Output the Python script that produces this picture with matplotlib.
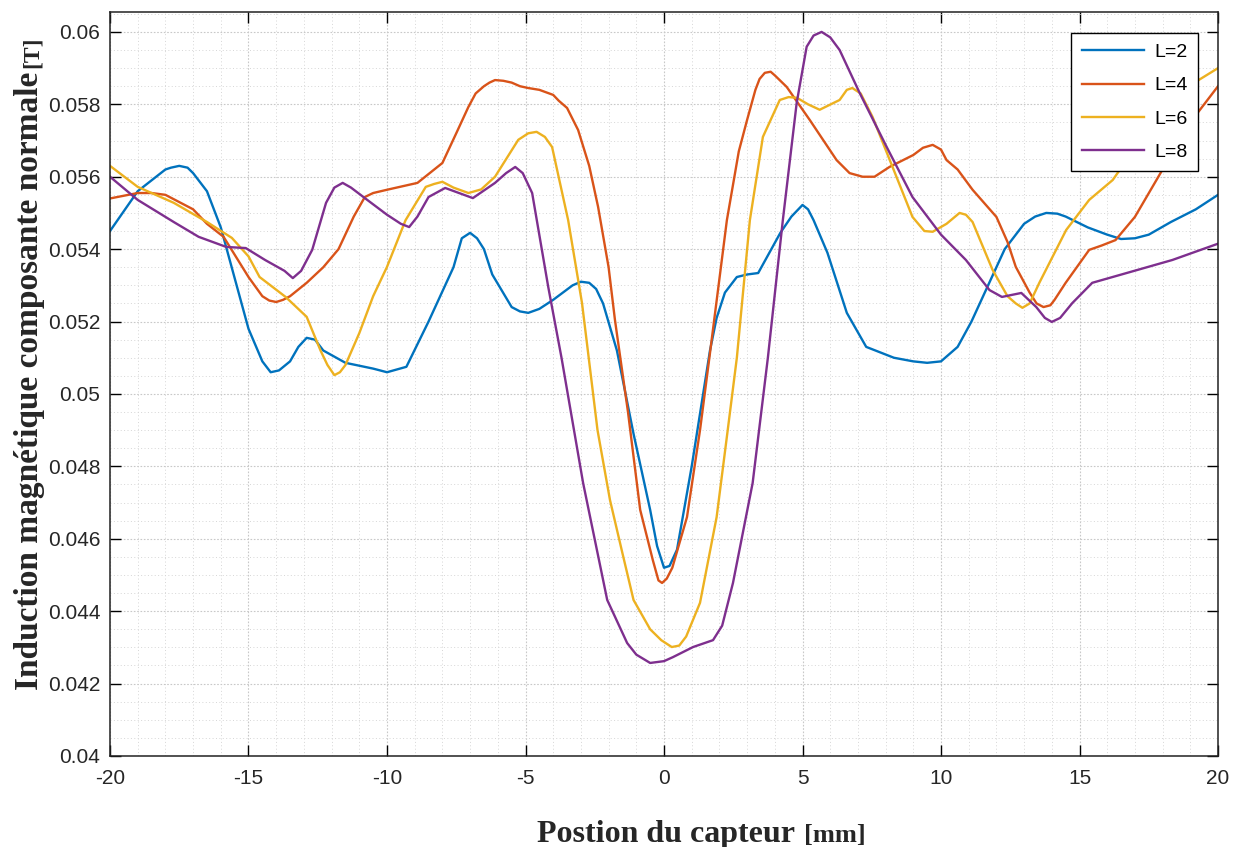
import matplotlib
matplotlib.use("Agg")
import matplotlib.pyplot as plt
from matplotlib.ticker import MultipleLocator

# valeurs (position en mm, induction en T)
x_L2 = [-20, -19, -18, -17.8, -17.5, -17.2, -17, -16.5, -16, -15.5, -15, -14.5, -14.2, -13.9,
        -13.5, -13.2, -12.9, -12.6, -12.3, -11.5, -10.5, -10, -9.3, -8.5, -7.6, -7.3, -7.0,
        -6.75, -6.5, -6.2, -5.5, -5.2, -4.9, -4.5, -4.0, -3.3, -3.0, -2.7, -2.45, -2.2, -1.7,
        -1.1, -0.5, -0.25, 0, 0.2, 0.47, 1.0, 1.66, 1.9, 2.2, 2.63, 3.0, 3.4, 4.2, 4.6, 5.0,
        5.2, 5.4, 5.9, 6.6, 7.3, 8.3, 9.0, 9.5, 10.0, 10.6, 11.1, 11.7, 12.3, 13.0, 13.4, 13.8,
        14.2, 14.5, 15.3, 16.0, 16.5, 17.0, 17.5, 18.3, 19.2, 20]
y_L2 = [0.0545, 0.0556, 0.0562, 0.05625, 0.0563, 0.05625, 0.0561, 0.0556, 0.0546, 0.0532,
        0.0518, 0.0509, 0.0506, 0.05065, 0.0509, 0.0513, 0.05155, 0.0515, 0.0512, 0.05086,
        0.0507, 0.0506, 0.05075, 0.0520, 0.0535, 0.0543, 0.05445, 0.0543, 0.0540, 0.0533,
        0.0524, 0.05228, 0.05224, 0.05235, 0.0526, 0.0530, 0.0531, 0.05307, 0.0529, 0.0525,
        0.0512, 0.0489, 0.0468, 0.0458, 0.0452, 0.04525, 0.0457, 0.0480, 0.0512, 0.0521,
        0.0528, 0.05323, 0.0533, 0.05334, 0.05445, 0.0549, 0.05522, 0.0551, 0.0548, 0.0539,
        0.05224, 0.0513, 0.0510, 0.0509, 0.05086, 0.0509, 0.0513, 0.0520, 0.0530, 0.0540,
        0.0547, 0.0549, 0.0550, 0.05498, 0.0549, 0.0546, 0.0544, 0.05428, 0.0543, 0.0544,
        0.05475, 0.0551, 0.0555]

x_L4 = [-20, -19, -18.5, -18, -17, -16.5, -15.9, -15, -14.5, -14.25, -14.0, -13.75, -13.5,
        -12.9, -12.3, -11.75, -11.2, -10.8, -10.5, -10, -8.9, -8.0, -7.5, -7.06, -6.8, -6.5,
        -6.3, -6.1, -5.8, -5.5, -5.2, -4.9, -4.5, -4.0, -3.8, -3.5, -3.1, -2.7, -2.38, -2.0,
        -1.77, -1.3, -0.86, -0.4, -0.2, -0.07, 0.1, 0.3, 0.83, 1.3, 1.66, 2.27, 2.7, 3.0, 3.3,
        3.45, 3.64, 3.85, 4.0, 4.43, 5.26, 6.23, 6.7, 7.17, 7.6, 8.14, 9.0, 9.35, 9.7, 10.0,
        10.2, 10.6, 11.14, 12.0, 12.4, 12.7, 13.2, 13.45, 13.7, 13.95, 14.1, 14.5, 15.35,
        15.8, 16.3, 17.0, 18.0, 19.0, 20.0]
y_L4 = [0.0554, 0.05555, 0.05555, 0.0555, 0.0551, 0.0547, 0.05434, 0.05323, 0.0527, 0.05258,
        0.05254, 0.0526, 0.0527, 0.05307, 0.0535, 0.0540, 0.0549, 0.05544, 0.05555, 0.05564,
        0.05583, 0.05638, 0.0572, 0.05793, 0.0583, 0.0585, 0.0586, 0.05867, 0.05865, 0.0586,
        0.0585, 0.05845, 0.0584, 0.05826, 0.0581, 0.0579, 0.05729, 0.0563, 0.05517, 0.0535,
        0.05204, 0.0495, 0.0468, 0.0454, 0.04485, 0.04478, 0.0449, 0.0452, 0.0466, 0.0490,
        0.05113, 0.0548, 0.0567, 0.05757, 0.0584, 0.0587, 0.05887, 0.0589, 0.0588, 0.05848,
        0.05757, 0.05646, 0.0561, 0.0560, 0.0560, 0.05627, 0.0566, 0.0568, 0.05688, 0.05675,
        0.05646, 0.0562, 0.05564, 0.05489, 0.0542, 0.05351, 0.0528, 0.0525, 0.0524, 0.05245,
        0.0526, 0.05307, 0.05398, 0.0541, 0.05425, 0.05489, 0.0562, 0.0575, 0.0585]

x_L6 = [-20, -19, -17.7, -16.5, -15.6, -15.0, -14.6, -13.66, -12.9, -12.4, -12.15, -11.9,
        -11.7, -11.5, -11.0, -10.5, -10.0, -9.33, -8.6, -8.3, -8.0, -7.6, -7.06, -6.6, -6.1,
        -5.26, -4.9, -4.6, -4.3, -4.04, -3.46, -2.96, -2.75, -2.4, -1.95, -1.5, -1.1, -0.5,
        -0.1, 0.28, 0.55, 0.8, 1.3, 1.9, 2.3, 2.63, 3.1, 3.57, 4.18, 4.5, 4.8, 5.2, 5.62, 6.34,
        6.6, 6.8, 7.1, 7.53, 8.25, 8.97, 9.4, 9.7, 10.2, 10.67, 10.9, 11.14, 11.86, 12.4, 12.7,
        12.94, 13.2, 13.55, 14.52, 15.35, 16.2, 16.7, 17.5, 18.5, 19.3, 20.0]
y_L6 = [0.0563, 0.05572, 0.05528, 0.05475, 0.05431, 0.0538, 0.05323, 0.05268, 0.05213, 0.0512,
        0.0508, 0.05052, 0.0506, 0.0508, 0.05168, 0.0527, 0.05351, 0.0548, 0.05572, 0.0558,
        0.05586, 0.0557, 0.05555, 0.05565, 0.0560, 0.05702, 0.0572, 0.05724, 0.0571, 0.05682,
        0.0548, 0.05251, 0.0512, 0.0490, 0.04707, 0.0456, 0.04431, 0.0435, 0.0432, 0.04301,
        0.04305, 0.0433, 0.04423, 0.0466, 0.0490, 0.0510, 0.0548, 0.0571, 0.05812, 0.0582,
        0.05818, 0.0580, 0.05785, 0.05812, 0.0584, 0.05845, 0.0583, 0.05765, 0.05627, 0.05489,
        0.0545, 0.05448, 0.0547, 0.0550, 0.05495, 0.05475, 0.05343, 0.0527, 0.0525, 0.05238,
        0.0525, 0.05307, 0.05453, 0.05536, 0.05591, 0.05646, 0.0571, 0.0580, 0.05867, 0.0590]

x_L8 = [-20, -19, -17.7, -16.8, -15.8, -15.1, -14.4, -13.7, -13.4, -13.1, -12.7, -12.2, -11.9,
        -11.6, -11.3, -10.8, -10.0, -9.5, -9.2, -8.9, -8.5, -7.9, -7.4, -6.9, -6.1, -5.7,
        -5.37, -5.1, -4.76, -4.18, -3.7, -2.92, -2.05, -1.33, -1.0, -0.5, 0.0, 0.32, 1.05,
        1.77, 2.1, 2.49, 3.2, 3.75, 4.29, 4.79, 5.15, 5.4, 5.69, 6.0, 6.34, 7.06, 8.04, 8.97,
        10.0, 10.9, 11.75, 12.2, 12.9, 13.44, 13.75, 14.0, 14.3, 14.74, 15.46, 16.7, 18.35, 20.0]
y_L8 = [0.0560, 0.05536, 0.05475, 0.05434, 0.05406, 0.05403, 0.0537, 0.0534, 0.0532, 0.0534,
        0.05398, 0.05528, 0.0557, 0.05583, 0.0557, 0.05541, 0.05495, 0.0547, 0.05461, 0.0549,
        0.05544, 0.05569, 0.05555, 0.05541, 0.05583, 0.0561, 0.05627, 0.0561, 0.05555,
        0.05296, 0.0510, 0.04754, 0.04431, 0.04312, 0.0428, 0.04257, 0.04262, 0.04273,
        0.04301, 0.0432, 0.0436, 0.04478, 0.04754, 0.0510, 0.0548, 0.05804, 0.05959, 0.0599,
        0.0600, 0.05985, 0.0595, 0.05832, 0.05682, 0.05544, 0.0544, 0.0537, 0.05287, 0.05268,
        0.05279, 0.0524, 0.0521, 0.05199, 0.0521, 0.05251, 0.05307, 0.05334, 0.0537, 0.05415]

labels = ["L=2", "L=4", "L=6", "L=8"]
colors = ["#0072BD", "#D95319", "#EDB120", "#7E2F8E"]

x_ticks = [-20, -15, -10, -5, 0, 5, 10, 15, 20]
y_ticks = [0.04, 0.042, 0.044, 0.046, 0.048, 0.05, 0.052, 0.054, 0.056, 0.058, 0.06]
y_ticklabels = ["0.04", "0.042", "0.044", "0.046", "0.048", "0.05", "0.052", "0.054",
                "0.056", "0.058", "0.06"]

plt.rcParams["axes.unicode_minus"] = False
plt.rcParams["font.family"] = ["Liberation Sans", "DejaVu Sans"]

W, H = 1247, 847
fig = plt.figure(figsize=(W / 100, H / 100), dpi=100)
ax = fig.add_axes([110 / W, 1 - 756 / H, (1218 - 110) / W, (756 - 12) / H])

for xs, ys, lab, c in zip([x_L2, x_L4, x_L6, x_L8], [y_L2, y_L4, y_L6, y_L8], labels, colors):
    ax.plot(xs, ys, color=c, lw=1.7, label=lab, solid_joinstyle="round")

ax.set_xlim(-20, 20)
ax.set_ylim(0.04, 0.06055)
ax.set_xticks(x_ticks)
ax.set_xticklabels([str(v) for v in x_ticks])
ax.set_yticks(y_ticks)
ax.set_yticklabels(y_ticklabels)
ax.xaxis.set_minor_locator(MultipleLocator(1))
ax.yaxis.set_minor_locator(MultipleLocator(0.0005))

ax.tick_params(which="major", direction="in", length=8, width=1, top=True, right=True,
               labelsize=15, colors="black", labelcolor="#262626")
ax.tick_params(axis="y", pad=7)
ax.tick_params(axis="x", pad=9)
ax.tick_params(which="minor", length=0, top=True, right=True)

ax.grid(True, which="major", color="#c8c8c8", linestyle=(0, (1.5, 1.5)), lw=0.8)
ax.grid(True, which="minor", color="#d6d6d6", linestyle=(0, (1, 2.5)), lw=0.7)
ax.set_axisbelow(True)
for s in ax.spines.values():
    s.set_linewidth(1.1)
    s.set_color("#222222")

leg = ax.legend(loc="upper right", bbox_to_anchor=(1 - 20 / 1108, 1 - 21 / 744),
                borderaxespad=0, fontsize=14, handlelength=3.2, fancybox=False,
                framealpha=1, edgecolor="black", borderpad=0.55, labelspacing=0.8,
                handletextpad=0.5)
leg.get_frame().set_linewidth(1.0)

serif = ["Liberation Serif", "DejaVu Serif"]

# titres des axes : texte principal + unité plus petite
fig.canvas.draw()
r = fig.canvas.get_renderer()
tx = fig.text(537 / W, 1 - 842 / H, "Postion du capteur", family=serif, weight="bold",
              fontsize=23, ha="left", va="baseline", color="#262626")
bb = tx.get_window_extent(r)
fig.text((bb.x1 + 9) / W, 1 - 842 / H, "[mm]", family=serif, weight="bold",
         fontsize=19, ha="left", va="baseline", color="#262626")

ty = fig.text(38 / W, 1 - 690 / H, "Induction magnétique composante normale", family=serif,
              weight="bold", fontsize=24, rotation=90, ha="left", va="baseline",
              rotation_mode="anchor", color="#262626")
bb = ty.get_window_extent(r)
fig.text(38 / W, (bb.y1 + 4) / H, "[T]", family=serif, weight="bold", fontsize=17,
         rotation=90, ha="left", va="baseline", rotation_mode="anchor", color="#262626")

fig.savefig("out.png", dpi=100)
